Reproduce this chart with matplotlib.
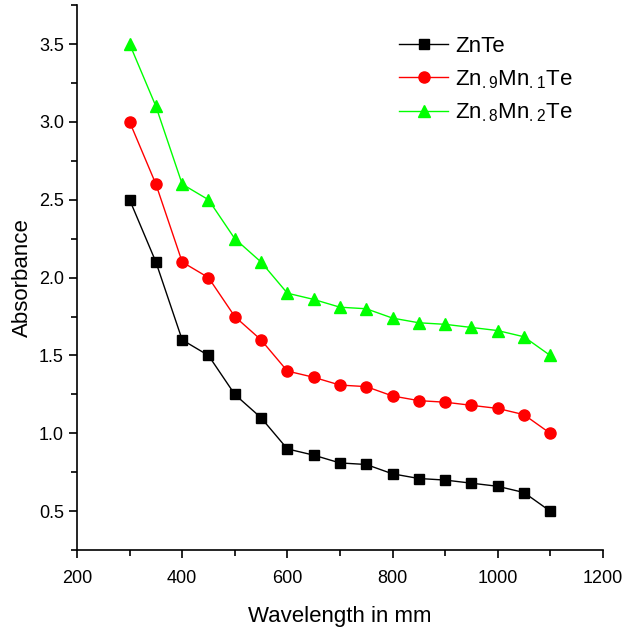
import matplotlib.pyplot as plt
from matplotlib.ticker import MultipleLocator

plt.rcParams['font.family'] = ['Liberation Sans', 'DejaVu Sans']
plt.rcParams['mathtext.default'] = 'regular'

wavelength = [300, 350, 400, 450, 500, 550, 600, 650, 700, 750, 800, 850, 900, 950, 1000, 1050, 1100]
znte = [2.5, 2.1, 1.6, 1.5, 1.25, 1.1, 0.9, 0.86, 0.81, 0.8, 0.74, 0.71, 0.70, 0.68, 0.66, 0.62, 0.5]
zn9mn1 = [3.0, 2.6, 2.1, 2.0, 1.75, 1.6, 1.4, 1.36, 1.31, 1.30, 1.24, 1.21, 1.20, 1.18, 1.16, 1.12, 1.0]
zn8mn2 = [3.5, 3.1, 2.6, 2.5, 2.25, 2.1, 1.9, 1.86, 1.81, 1.80, 1.74, 1.71, 1.70, 1.68, 1.66, 1.62, 1.5]

fig = plt.figure(figsize=(6.42, 6.36), dpi=100)
ax = fig.add_axes([0.12, 0.135, 0.819, 0.857])

ax.plot(wavelength, znte, color="black", lw=1, marker="s", ms=7, label="ZnTe")
ax.plot(wavelength, zn9mn1, color="red", lw=1, marker="o", ms=8, label="Zn$_{.9}$Mn$_{.1}$Te")
ax.plot(wavelength, zn8mn2, color="#00FF00", lw=1, marker="^", ms=8.5, label="Zn$_{.8}$Mn$_{.2}$Te")

ax.set_xlim(200, 1200)
ax.set_ylim(0.25, 3.75)
ax.xaxis.set_major_locator(MultipleLocator(200))
ax.xaxis.set_minor_locator(MultipleLocator(100))
ax.yaxis.set_major_locator(MultipleLocator(0.5))
ax.yaxis.set_minor_locator(MultipleLocator(0.25))
ax.tick_params(which="major", direction="out", length=6, width=1.2, labelsize=13)
ax.tick_params(axis="x", which="major", pad=8)
ax.tick_params(which="minor", direction="out", length=4, width=1.2)
ax.spines["top"].set_visible(False)
ax.spines["right"].set_visible(False)
ax.spines["left"].set_linewidth(1.2)
ax.spines["bottom"].set_linewidth(1.2)

ax.set_xlabel("Wavelength in mm", fontsize=16, labelpad=14)
ax.set_ylabel("Absorbance", fontsize=16, labelpad=4)

ax.legend(loc="upper right", bbox_to_anchor=(0.98, 0.98), frameon=False, fontsize=16,
          handlelength=2.2, labelspacing=0.5, handletextpad=0.3)

fig.savefig("out.png", dpi=100)
